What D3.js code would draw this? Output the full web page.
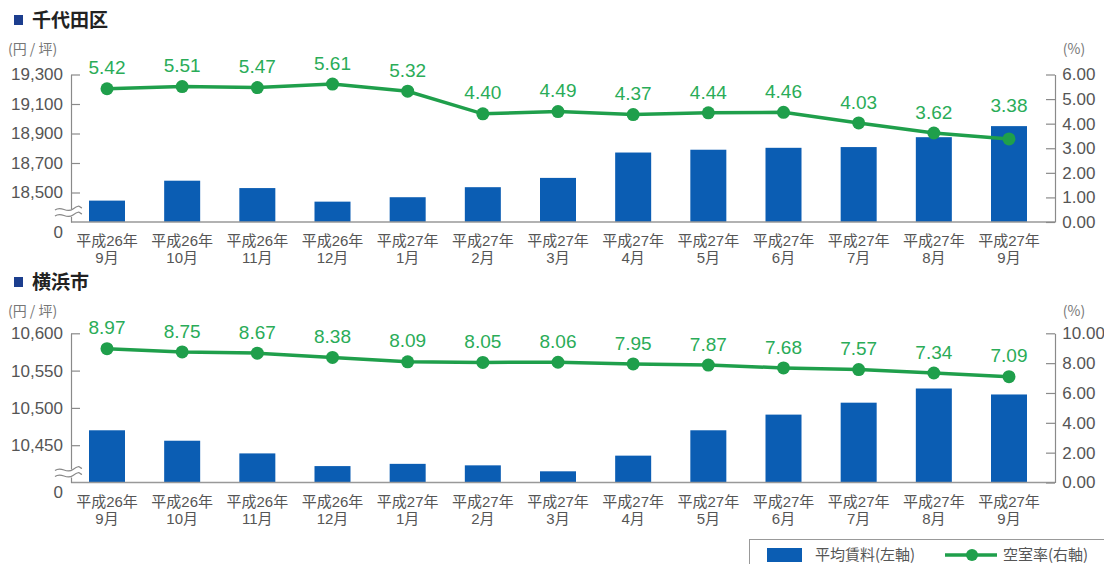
<!DOCTYPE html>
<html>
<head>
<meta charset="utf-8">
<script src="https://cdn.jsdelivr.net/npm/d3@7"></script>
<style>
  body { margin: 0; background: #fff; }
  svg text { font-family: "Liberation Sans", Arial, sans-serif; }
  .jp { font-family: "Noto Sans CJK JP", sans-serif; }
  .xlab { font-family: "Liberation Sans", "Noto Sans CJK JP", sans-serif; }
</style>
</head>
<body>
<svg id="chart" width="1104" height="564"></svg>
<script>
// categories
var years = ["平成26年","平成26年","平成26年","平成26年","平成27年","平成27年","平成27年","平成27年","平成27年","平成27年","平成27年","平成27年","平成27年"];
var months = ["9月","10月","11月","12月","1月","2月","3月","4月","5月","6月","7月","8月","9月"];

// 千代田区
var chiyodaRent = [18445, 18580, 18530, 18438, 18468, 18536, 18599, 18771, 18790, 18803, 18808, 18875, 18950];
var chiyodaVacancy = [5.42, 5.51, 5.47, 5.61, 5.32, 4.40, 4.49, 4.37, 4.44, 4.46, 4.03, 3.62, 3.38];
var chiyodaRentTicks = [18500, 18700, 18900, 19100, 19300];
var chiyodaRateTicks = [0, 1, 2, 3, 4, 5, 6];

// 横浜市
var yokohamaRent = [10470, 10456, 10439, 10422, 10425, 10423, 10415, 10436, 10470, 10491, 10507, 10526, 10518];
var yokohamaVacancy = [8.97, 8.75, 8.67, 8.38, 8.09, 8.05, 8.06, 7.95, 7.87, 7.68, 7.57, 7.34, 7.09];
var yokohamaRentTicks = [10450, 10500, 10550, 10600];
var yokohamaRateTicks = [0, 2, 4, 6, 8, 10];

var svg = d3.select("#chart");
var BLUE = "#0b5db3", GREEN = "#1f9f4b", LABEL_GREEN = "#2aac58";
var left = 71, right = 1055;

var x = d3.scalePoint()
  .domain(d3.range(months.length))
  .range([107, 1009]);

function drawPanel(cfg) {
  var g = svg.append("g");

  // title
  g.append("rect").attr("x", 14).attr("y", cfg.titleY - 5).attr("width", 9).attr("height", 10).attr("fill", "#1c3e8e");
  g.append("text").attr("class", "jp")
    .attr("x", 32).attr("y", cfg.titleY).attr("dy", "0.35em")
    .style("font-size", "19px").style("font-weight", "bold").attr("fill", "#222")
    .text(cfg.title);

  g.append("text").attr("class", "jp")
    .attr("x", 8).attr("y", cfg.titleY + 29).attr("dy", "0.35em")
    .style("font-size", "14px").attr("fill", "#777")
    .text("(円 / 坪)");
  g.append("text").attr("class", "jp")
    .attr("x", 1074).attr("y", cfg.titleY + 29).attr("dy", "0.35em")
    .attr("text-anchor", "middle")
    .style("font-size", "14px").attr("fill", "#777")
    .text("(%)");

  var yL = d3.scaleLinear().domain(cfg.rentDomain).range([cfg.base, cfg.top]);
  var yR = d3.scaleLinear().domain(cfg.rateDomain).range([cfg.base, cfg.top]);

  // bars
  g.selectAll(".bar").data(cfg.rent).enter().append("rect")
    .attr("x", function(d, i) { return x(i) - 18; })
    .attr("width", 36)
    .attr("y", function(d) { return yL(d); })
    .attr("height", function(d) { return cfg.base - yL(d); })
    .attr("fill", BLUE);

  // baseline
  g.append("line").attr("x1", left).attr("x2", right)
    .attr("y1", cfg.base).attr("y2", cfg.base)
    .attr("stroke", "#999").attr("stroke-width", 1.5);

  // left axis
  var la = g.append("g").attr("transform", "translate(" + left + ",0)")
    .call(d3.axisLeft(yL).tickValues(cfg.rentTicks).tickSizeInner(-9).tickSizeOuter(0).tickPadding(8).tickFormat(d3.format(",")));
  // right axis
  var ra = g.append("g").attr("transform", "translate(" + right + ",0)")
    .call(d3.axisRight(yR).tickValues(cfg.rateTicks).tickSizeInner(-9).tickSizeOuter(0).tickPadding(9).tickFormat(d3.format(".2f")));
  [la, ra].forEach(function(a) {
    a.selectAll("path, line").attr("stroke", "#8a8a8a").attr("stroke-width", 1.2);
    a.selectAll("text").style("font-size", "17px").attr("fill", "#555")
      .style("font-family", "'Liberation Sans', Arial, sans-serif");
  });
  ra.selectAll(".tick text").attr("dx", "-0.1em");

  // axis break
  g.append("rect").attr("x", 58).attr("y", cfg.base - 13).attr("width", 24).attr("height", 8).attr("fill", "#fff");
  [cfg.base - 13, cfg.base - 7].forEach(function(yy) {
    g.append("path")
      .attr("d", "M55," + (yy + 1) + " C62," + (yy - 4) + " 66," + (yy + 5) + " 73," + yy + " S79," + (yy - 2) + " 82," + (yy - 1))
      .attr("fill", "none").attr("stroke", "#888").attr("stroke-width", 1.2);
  });
  g.append("text").attr("x", 63).attr("y", cfg.base + 10).attr("dy", "0.35em")
    .attr("text-anchor", "end").style("font-size", "17px").attr("fill", "#555").text("0");

  // x labels (two lines each)
  g.selectAll(".xy").data(years).enter().append("text").attr("class", "xlab")
    .attr("text-anchor", "middle").style("font-size", "15px").attr("fill", "#555")
    .attr("x", function(d, i) { return x(i); }).attr("y", cfg.base + 19)
    .attr("dy", "0.35em").text(function(d) { return d; });
  g.selectAll(".xm").data(months).enter().append("text").attr("class", "xlab")
    .attr("text-anchor", "middle").style("font-size", "15px").attr("fill", "#555")
    .attr("x", function(d, i) { return x(i); }).attr("y", cfg.base + 36)
    .attr("dy", "0.35em").text(function(d) { return d; });

  // vacancy line
  var line = d3.line().x(function(d, i) { return x(i); }).y(function(d) { return yR(d); });
  g.append("path").datum(cfg.rate).attr("d", line)
    .attr("fill", "none").attr("stroke", GREEN).attr("stroke-width", 3.5);
  g.selectAll(".dot").data(cfg.rate).enter().append("circle")
    .attr("cx", function(d, i) { return x(i); })
    .attr("cy", function(d) { return yR(d); })
    .attr("r", 6.5).attr("fill", GREEN);
  g.selectAll(".lbl").data(cfg.rate).enter().append("text")
    .attr("x", function(d, i) { return x(i); })
    .attr("y", function(d, i) { return Math.min(yR(d), yL(cfg.rent[i])) - 21; })
    .attr("dy", "0.35em").attr("text-anchor", "middle")
    .style("font-size", "19px").attr("fill", LABEL_GREEN)
    .text(function(d) { return d3.format(".2f")(d); });
}

drawPanel({ title: "千代田区", titleY: 20, base: 222, top: 74.5,
  rent: chiyodaRent, rate: chiyodaVacancy, rentDomain: [18300, 19300], rateDomain: [0, 6],
  rentTicks: chiyodaRentTicks, rateTicks: chiyodaRateTicks });

drawPanel({ title: "横浜市", titleY: 282, base: 482.5, top: 333.3,
  rent: yokohamaRent, rate: yokohamaVacancy, rentDomain: [10400, 10600], rateDomain: [0, 10],
  rentTicks: yokohamaRentTicks, rateTicks: yokohamaRateTicks });

// legend
var lg = svg.append("g");
lg.append("rect").attr("x", 749.5).attr("y", 539.5).attr("width", 360).attr("height", 40)
  .attr("fill", "#fff").attr("stroke", "#999");
lg.append("rect").attr("x", 767).attr("y", 548).attr("width", 35).attr("height", 14).attr("fill", BLUE);
lg.append("text").attr("class", "jp").attr("x", 815).attr("y", 555).attr("dy", "0.35em")
  .style("font-size", "15px").attr("fill", "#555").text("平均賃料(左軸)");
lg.append("line").attr("x1", 945).attr("x2", 997).attr("y1", 555).attr("y2", 555)
  .attr("stroke", GREEN).attr("stroke-width", 3.5);
lg.append("circle").attr("cx", 972).attr("cy", 555).attr("r", 6).attr("fill", GREEN);
lg.append("text").attr("class", "jp").attr("x", 1003).attr("y", 555).attr("dy", "0.35em")
  .style("font-size", "15px").attr("fill", "#555").text("空室率(右軸)");
</script>
</body>
</html>
